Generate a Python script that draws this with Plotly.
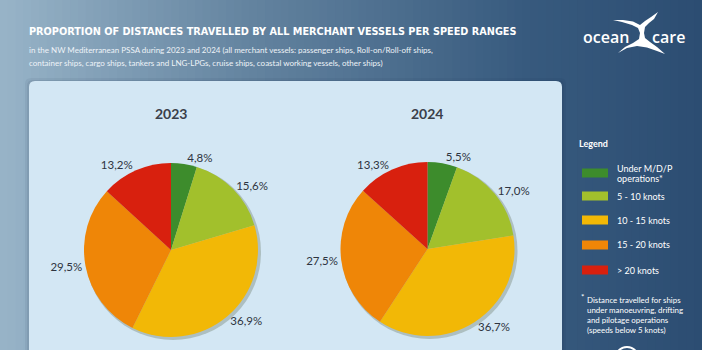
import plotly.graph_objects as go

W, H = 702, 350

# ---------------- data ----------------
categories = ["Under M/D/P operations*", "5 - 10 knots", "10 - 15 knots", "15 - 20 knots", "> 20 knots"]
legend_lines = [["Under M/D/P", "operations*"], ["5 - 10 knots"], ["10 - 15 knots"], ["15 - 20 knots"], ["> 20 knots"]]
values_2023 = [4.8, 15.6, 36.9, 29.5, 13.2]
values_2024 = [5.5, 17.0, 36.7, 27.5, 13.3]
years = ["2023", "2024"]
colors = ["#3d8c2c", "#a2c02c", "#f2b806", "#ef8607", "#d8200e"]

title = "PROPORTION OF DISTANCES TRAVELLED BY ALL MERCHANT VESSELS PER SPEED RANGES"
subtitle = ["in the NW Mediterranean PSSA during 2023 and 2024 (all merchant vessels: passenger ships, Roll-on/Roll-off ships,",
            "container ships, cargo ships, tankers and LNG-LPGs, cruise ships, coastal working vessels, other ships)"]
footnote = ["Distance travelled for ships", "under manoeuvring, drifting", "and pilotage operations", "(speeds below 5 knots)"]

NARROW = "Liberation Sans Narrow, DejaVu Sans Condensed, sans-serif"

def px(x):
    return x / W

def py(y):
    return 1 - y / H

shapes = []
# gradient background
stops = [(0.0, (152, 180, 200)), (0.35, (100, 132, 160)), (0.75, (55, 90, 126)), (1.0, (44, 77, 114))]

def grad(t):
    for (t0, c0), (t1, c1) in zip(stops[:-1], stops[1:]):
        if t <= t1:
            f = (t - t0) / (t1 - t0)
            return tuple(int(round(a + (b - a) * f)) for a, b in zip(c0, c1))
    return stops[-1][1]

N = 90
for i in range(N):
    x0 = W * i / N
    x1 = W * (i + 1) / N + 1
    c = grad((i + 0.5) / N)
    shapes.append(dict(type="rect", xref="paper", yref="paper", x0=px(x0), x1=px(min(x1, W)),
                       y0=0, y1=1, fillcolor="rgb(%d,%d,%d)" % c, line=dict(width=0), layer="below"))

def rrect(x0, y0, x1, y1, r):
    return (f"M {px(x0+r)} {py(y0)} L {px(x1-r)} {py(y0)} "
            f"Q {px(x1)} {py(y0)} {px(x1)} {py(y0+r)} L {px(x1)} {py(y1)} "
            f"L {px(x0)} {py(y1)} L {px(x0)} {py(y0+r)} Q {px(x0)} {py(y0)} {px(x0+r)} {py(y0)} Z")

for d, a in [(4, 0.06), (2, 0.08)]:
    shapes.append(dict(type="path", xref="paper", yref="paper", path=rrect(29 - d, 81 - d + 1, 562 + d, 360, 6),
                       fillcolor=f"rgba(20,40,70,{a})", line=dict(width=0), layer="below"))
shapes.append(dict(type="path", xref="paper", yref="paper", path=rrect(29, 81, 562, 360, 6),
                   fillcolor="#d3e7f4", line=dict(width=0), layer="below"))

# pie geometry (pixels)
pies = [(171, 250, 87), (427.5, 249, 87)]
for cx, cy, r in pies:
    shapes.append(dict(type="circle", xref="paper", yref="paper",
                       x0=px(cx - r + 1), x1=px(cx + r + 3), y0=py(cy + r + 3), y1=py(cy - r + 1),
                       fillcolor="rgba(60,70,40,0.25)", line=dict(width=0), layer="below"))

# legend swatches
legend_y = [173, 196, 220, 245, 270]
for c, yy in zip(colors, legend_y):
    shapes.append(dict(type="rect", xref="paper", yref="paper", x0=px(582), x1=px(608),
                       y0=py(yy + 4.5), y1=py(yy - 4.5), fillcolor=c, line=dict(width=0)))

# whale tail logo
tail = [(613, 20), (623, 20), (633, 21.5), (640, 25), (645, 21), (651, 17), (658, 12),
        (654, 19), (649, 23), (645, 27), (644, 33), (645, 38), (650, 42), (657, 47), (665, 54),
        (657, 51), (647, 47.5), (637, 46), (627, 48), (618, 53),
        (625, 47), (633, 43), (639, 39), (640, 33), (638, 28), (632, 25), (622, 22)]
path = "M " + " L ".join(f"{px(x)} {py(y)}" for x, y in tail) + " Z"
shapes.append(dict(type="path", xref="paper", yref="paper", path=path, fillcolor="white", line=dict(width=0)))

# bottom logo arc
shapes.append(dict(type="circle", xref="paper", yref="paper", x0=px(615), x1=px(639), y0=py(372), y1=py(347),
                   fillcolor="rgba(0,0,0,0)", line=dict(color="white", width=2)))

fig = go.Figure()
for (cx, cy, r), vals, yr in zip(pies, [values_2023, values_2024], years):
    fig.add_trace(go.Pie(
        labels=categories, values=vals, sort=False, direction="clockwise", rotation=0,
        marker=dict(colors=colors, line=dict(width=0)),
        texttemplate="%{value:.1f}%", textposition="outside",
        textfont=dict(family="Lato", size=11.5, color="#2e3440"),
        domain=dict(x=[px(cx - r), px(cx + r)], y=[py(cy + r), py(cy - r)]),
        showlegend=False, hoverinfo="label+value", name=yr,
    ))

annotations = []
annotations.append(dict(x=px(27), y=py(32), xref="paper", yref="paper", xanchor="left", yanchor="middle",
                        text="<b>" + title + "</b>", showarrow=False,
                        font=dict(family=NARROW, size=10.8, color="white")))
for i, line in enumerate(subtitle):
    annotations.append(dict(x=px(27), y=py(50 + 13 * i), xref="paper", yref="paper", xanchor="left", yanchor="middle",
                            text=line, showarrow=False,
                            font=dict(family="Lato", size=8, color="#eef3f8")))
for (cx, cy, r), yr in zip(pies, years):
    annotations.append(dict(x=px(cx), y=py(113), xref="paper", yref="paper", xanchor="center", yanchor="middle",
                            text=f"<b>{yr}</b>", showarrow=False, font=dict(family="Lato", size=14, color="#3a404a")))
annotations.append(dict(x=px(577), y=py(143), xref="paper", yref="paper", xanchor="left", yanchor="middle",
                        text="<b>Legend</b>", showarrow=False, font=dict(family="Lato", size=9, color="white")))
for lines, yy in zip(legend_lines, legend_y):
    if len(lines) == 2:
        for j, t in enumerate(lines):
            annotations.append(dict(x=px(615), y=py(yy - 5 + 10 * j), xref="paper", yref="paper", xanchor="left",
                                    yanchor="middle", text=t, showarrow=False,
                                    font=dict(family="Lato", size=9, color="white")))
    else:
        annotations.append(dict(x=px(615), y=py(yy), xref="paper", yref="paper", xanchor="left", yanchor="middle",
                                text=lines[0], showarrow=False, font=dict(family="Lato", size=9, color="white")))
annotations.append(dict(x=px(579), y=py(297), xref="paper", yref="paper", xanchor="left", yanchor="middle",
                        text="*", showarrow=False, font=dict(family="Lato", size=8, color="white")))
for j, t in enumerate(footnote):
    annotations.append(dict(x=px(585), y=py(300 + 10 * j), xref="paper", yref="paper", xanchor="left", yanchor="middle",
                            text=t, showarrow=False, font=dict(family="Lato", size=7.9, color="white")))
# logo words
annotations.append(dict(x=px(605.5), y=py(37), xref="paper", yref="paper", xanchor="center", yanchor="middle",
                        text="ocean", showarrow=False, font=dict(family="Open Sans", size=16, color="white", weight=600)))
annotations.append(dict(x=px(668), y=py(37), xref="paper", yref="paper", xanchor="center", yanchor="middle",
                        text="care", showarrow=False, font=dict(family="Open Sans", size=16, color="white", weight=600)))

fig.update_layout(
    width=W, height=H, margin=dict(l=0, r=0, t=0, b=0),
    paper_bgcolor="#5d7f9c", plot_bgcolor="rgba(0,0,0,0)",
    separators=", ", shapes=shapes, annotations=annotations,
)
fig.write_html("out.html")
